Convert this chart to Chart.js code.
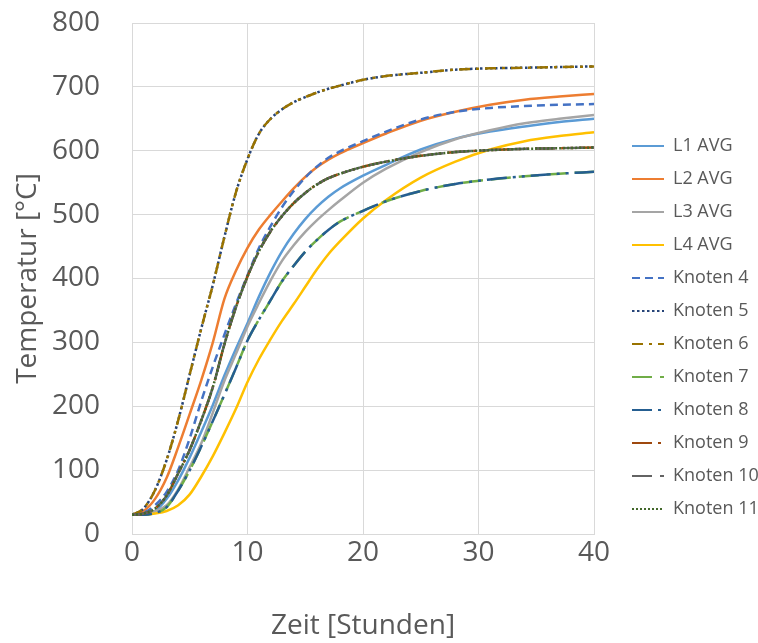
<!DOCTYPE html>
<html><head><meta charset="utf-8">
<script src="https://cdn.jsdelivr.net/npm/chart.js@4.4.1/dist/chart.umd.min.js"></script>
<style>html,body{margin:0;padding:0;background:#fff}#wrap{width:758px;height:643px;position:relative}</style>
</head><body><div id="wrap"><canvas id="c"></canvas></div>
<script>
const times = [0,1,2,3,4,5,6,7,8,9,10,11,12,13,14,15,16,17,18,20,22,25,28,31,34,37,40];
const xTicks = [0,10,20,30,40];
const yTicks = [0,100,200,300,400,500,600,700,800];
const seriesNames = ['L1 AVG','L2 AVG','L3 AVG','L4 AVG','Knoten 4','Knoten 5','Knoten 6','Knoten 7','Knoten 8','Knoten 9','Knoten 10','Knoten 11'];

const l1 = [30,31,36,55,84,120,160,202,248,290,330,372,410,443,470,493,512,528,541,561,578,602,619,630,638,645,650];
const l2 = [30,36,55,88,136,188,241,300,368,412,448,477,500,521,541,559,574,586,596,612,627,647,661,672,680,685,689];
const l3 = [30,31,36,45,70,105,142,190,240,282,325,362,397,428,452,473,491,507,522,550,572,598,618,632,643,650,656];
const l4 = [30,30,32,36,45,62,90,122,158,196,238,274,305,334,360,387,414,438,458,494,523,558,583,602,615,623,629];
const k4 = [30,33,45,66,100,150,208,262,312,360,405,448,482,512,537,558,575,589,599,615,630,649,661,667,670,672,673];
const kTop = [30,40,69,116,178,250,322,390,465,535,587,627,650,665,676,684,691,697,702,711,717,722,727,729,730,731,732];
const kMid = [30,32,40,60,95,132,178,230,297,355,403,443,474,498,518,534,547,557,564,575,583,592,598,601,603,604,605];
const kLow = [30,30,33,42,68,100,137,177,218,260,303,336,366,396,420,442,460,476,489,506,521,537,548,555,560,564,567];

const k5 = kTop, k6 = kTop;
const k7 = kLow, k8 = kLow;
const k9 = kMid, k10 = kMid, k11 = kMid;

const seriesValues = [l1,l2,l3,l4,k4,k5,k6,k7,k8,k9,k10,k11];
const colors = ['#5B9BD5','#ED7D31','#A5A5A5','#FFC000','#4472C4','#264478','#997300','#70AD47','#255E91','#9E480E','#636363','#43682B'];
const dashes = [[],[],[],[],[8,5],[2.5,2.5],[11,6,3,6],[20,8],[20,6,3,6,3,6],[20,6,3,6,3,6],[20,8],[2,2]];

const FONT = "'Open Sans', sans-serif";
const TXT = '#595959';
const GRID = '#D9D9D9';

const datasets = seriesNames.map((name, i) => ({
  label: name,
  data: times.map((t, j) => ({x: t, y: seriesValues[i][j]})),
  borderColor: colors[i],
  backgroundColor: colors[i],
  borderWidth: 2.5,
  borderDash: dashes[i],
  pointRadius: 0,
  pointHoverRadius: 0,
  cubicInterpolationMode: 'monotone',
  fill: false,
  order: seriesNames.length - i
}));

const legendPlace = {
  id: 'legendPlace',
  afterLayout(chart) {
    const lg = chart.legend;
    const ca = chart.chartArea;
    lg.left = ca.right + 23;
    lg.right = lg.left + 150;
    lg.top = 122;
    lg.bottom = 643;
  }
};

new Chart(document.getElementById('c'), {
  type: 'line',
  data: { datasets },
  plugins: [legendPlace],
  options: {
    responsive: true,
    maintainAspectRatio: false,
    animation: false,
    layout: { padding: { top: 23, right: 154, left: 0, bottom: 0 } },
    plugins: {
      tooltip: { enabled: false },
      legend: {
        position: 'right',
        align: 'start',
        maxWidth: 10,
        labels: {
          usePointStyle: true,
          pointStyle: 'line',
          pointStyleWidth: 32,
          boxHeight: 18,
          padding: 15,
          color: TXT,
          font: { family: FONT, size: 18 },
          sort: (a, b) => a.datasetIndex - b.datasetIndex,
          generateLabels: (chart) => Chart.defaults.plugins.legend.labels.generateLabels(chart).map(it => {
            const ds = chart.data.datasets[it.datasetIndex];
            it.lineDash = ds.borderDash;
            it.lineWidth = 2;
            it.strokeStyle = ds.borderColor;
            it.fillStyle = ds.borderColor;
            it.pointStyle = 'line';
            return it;
          })
        }
      }
    },
    scales: {
      x: {
        type: 'linear',
        min: 0, max: 40,
        afterBuildTicks: (s) => { s.ticks = xTicks.map(v => ({value: v})); },
        afterFit: (s) => { s.height = 109; },
        ticks: { color: TXT, font: { family: FONT, size: 28 }, padding: 2 },
        grid: { color: GRID, lineWidth: 1, drawTicks: false },
        border: { color: GRID, width: 1 },
        title: { display: true, text: 'Zeit [Stunden]', color: TXT, font: { family: FONT, size: 28 }, padding: { top: 0, bottom: 0 } }
      },
      y: {
        min: 0, max: 800,
        afterBuildTicks: (s) => { s.ticks = yTicks.map(v => ({value: v})); },
        afterFit: (s) => { s.width = 132; },
        ticks: { color: TXT, font: { family: FONT, size: 28 }, padding: 4 },
        grid: { color: GRID, lineWidth: 1, drawTicks: true, tickLength: 28, tickColor: 'rgba(0,0,0,0)' },
        border: { color: GRID, width: 1 },
        title: { display: true, text: 'Temperatur [°C]', color: TXT, font: { family: FONT, size: 28 }, padding: { top: 11, bottom: 0 } }
      }
    }
  }
});
</script>
</body></html>
